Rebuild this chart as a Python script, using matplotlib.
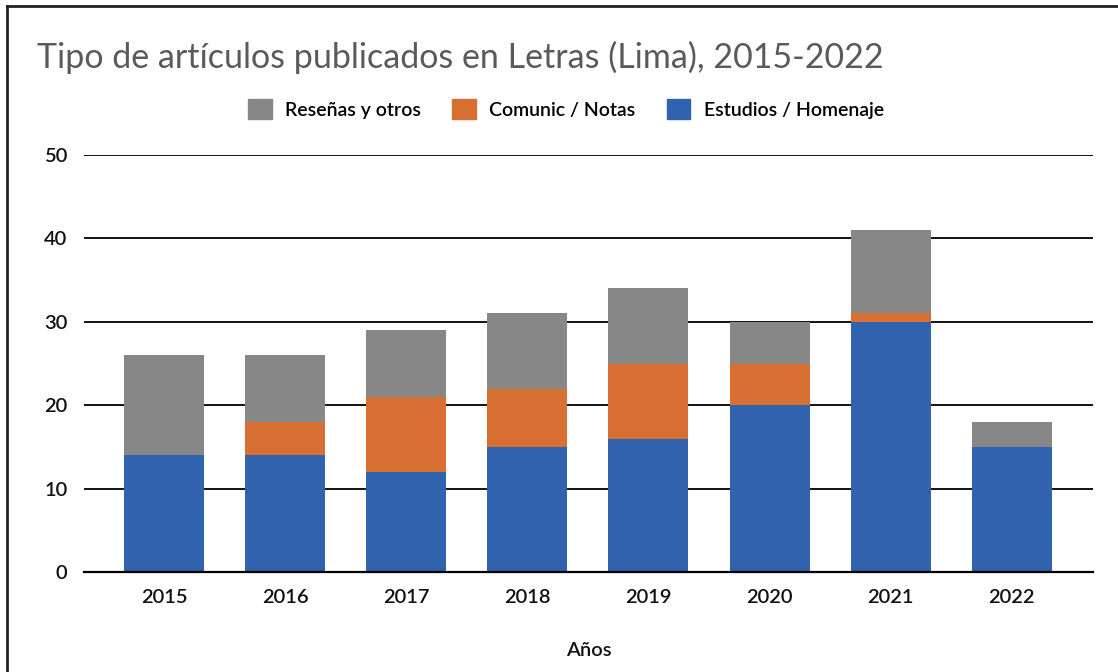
import matplotlib
matplotlib.use("Agg")
import matplotlib.pyplot as plt
from matplotlib.lines import Line2D
import numpy as np

plt.rcParams['font.family'] = ['Lato', 'DejaVu Sans']

years = ['2015', '2016', '2017', '2018', '2019', '2020', '2021', '2022']
estudios = [14, 14, 12, 15, 16, 20, 30, 15]
comunic = [0, 4, 9, 7, 9, 5, 1, 0]
resenas = [12, 8, 8, 9, 9, 5, 10, 3]

c_blue = '#3162ae'
c_orange = '#d86f33'
c_gray = '#878787'

fig = plt.figure(figsize=(11.18, 6.72), dpi=100)
ax = fig.add_axes([84 / 1118, 1 - 572 / 672, (1093 - 84) / 1118, (572 - 155) / 672])

x = np.arange(len(years))
w = 0.66
est = np.array(estudios)
com = np.array(comunic)
res = np.array(resenas)
ax.bar(x, est, w, color=c_blue, zorder=3, label='Estudios / Homenaje')
ax.bar(x, com, w, bottom=est, color=c_orange, zorder=3, label='Comunic / Notas')
ax.bar(x, res, w, bottom=est + com, color=c_gray, zorder=3, label='Reseñas y otros')

ax.set_xlim(-0.66, 7.67)
ax.set_ylim(0, 50)
ax.set_yticks([0, 10, 20, 30, 40, 50])
ax.set_xticks(x)
ax.set_xticklabels(years)
ax.yaxis.grid(True, color='black', linewidth=1.3, zorder=1)
for s in ['top', 'right', 'left']:
    ax.spines[s].set_visible(False)
ax.spines['bottom'].set_color('black')
ax.spines['bottom'].set_linewidth(1.6)
ax.spines['bottom'].set_zorder(4)
ax.tick_params(axis='both', length=0, labelsize=14.5, colors='#111111')
ax.tick_params(axis='x', pad=12)
ax.tick_params(axis='y', pad=12)
for lab in ax.get_yticklabels() + ax.get_xticklabels():
    lab.set_fontweight('semibold')
ax.set_xlabel('Años', fontsize=14.5, color='#111111', labelpad=26, fontweight='semibold')

fig.text(37 / 1118, 1 - 57 / 672, 'Tipo de artículos publicados en Letras (Lima), 2015-2022',
         fontsize=24.5, color='#5a5a5a', va='center', ha='left')

handles = [plt.Rectangle((0, 0), 1, 1, color=c_gray),
           plt.Rectangle((0, 0), 1, 1, color=c_orange),
           plt.Rectangle((0, 0), 1, 1, color=c_blue)]
fig.legend(handles, ['Reseñas y otros', 'Comunic / Notas', 'Estudios / Homenaje'],
           loc='center', bbox_to_anchor=(566 / 1118, 1 - 109 / 672), ncol=3,
           frameon=False, handlelength=1.2, handleheight=1.2,
           handletextpad=0.7, columnspacing=1.6,
           prop={'size': 14, 'weight': 'semibold'})

# border of the original screenshot (left and top only)
fig.add_artist(Line2D([7 / 1118, 7 / 1118], [0, 1 - 6 / 672], transform=fig.transFigure,
                      color='#222222', linewidth=2))
fig.add_artist(Line2D([7 / 1118, 1], [1 - 6 / 672, 1 - 6 / 672], transform=fig.transFigure,
                      color='#222222', linewidth=2))

fig.savefig('out.png', dpi=100)
